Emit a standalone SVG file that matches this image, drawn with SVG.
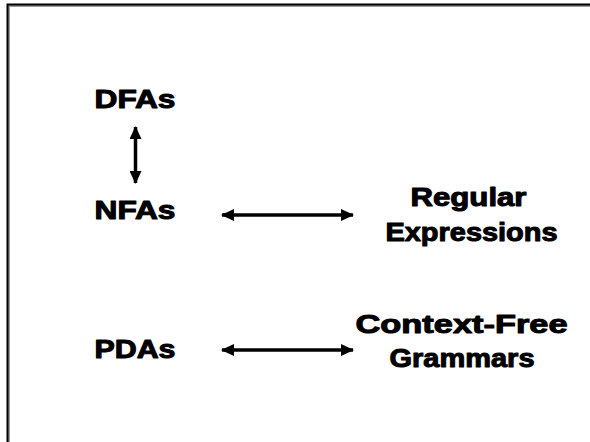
<svg xmlns="http://www.w3.org/2000/svg" width="590" height="442" viewBox="0 0 590 442">
<style>
.t{font-family:"Liberation Sans",Arial,sans-serif;font-weight:bold;font-size:25px;fill:#000;stroke:#000;stroke-width:1px;stroke-linejoin:round}
.c{stroke:#000;stroke-width:3.5;fill:none}
</style>
<defs>
<marker id="ah" viewBox="0 0 13 12" refX="12" refY="6" markerWidth="13" markerHeight="12" markerUnits="userSpaceOnUse" orient="auto-start-reverse">
<path d="M0,0 L13,6 L0,12 Z" fill="#000"/>
</marker>
</defs>
<rect width="590" height="442" fill="#fff"/>
<g id="frame">
<path d="M8.5,600 V5.5 H600" fill="none" stroke="#999" stroke-width="3"/>
<path d="M7.5,600 V4.5 H600" fill="none" stroke="#000" stroke-width="2"/>
</g>
<g id="dfas"><text class="t" x="94.5" y="107.5" textLength="81" lengthAdjust="spacingAndGlyphs">DFAs</text></g>
<g id="nfas"><text class="t" x="94.5" y="218.5" textLength="81" lengthAdjust="spacingAndGlyphs">NFAs</text></g>
<g id="pdas"><text class="t" x="94.5" y="357.5" textLength="81" lengthAdjust="spacingAndGlyphs">PDAs</text></g>
<g id="regex">
<text class="t" x="410.5" y="205.5" textLength="116" lengthAdjust="spacingAndGlyphs">Regular</text>
<text class="t" x="385.5" y="240.5" textLength="172" lengthAdjust="spacingAndGlyphs">Expressions</text>
</g>
<g id="cfg">
<text class="t" x="355.5" y="332.5" textLength="212" lengthAdjust="spacingAndGlyphs">Context-Free</text>
<text class="t" x="389.5" y="366.5" textLength="145" lengthAdjust="spacingAndGlyphs">Grammars</text>
</g>
<g id="connectors">
<line class="c" x1="135.5" y1="127" x2="135.5" y2="183" marker-start="url(#ah)" marker-end="url(#ah)"/>
<line class="c" x1="222" y1="215" x2="353" y2="215" marker-start="url(#ah)" marker-end="url(#ah)"/>
<line class="c" x1="222" y1="350" x2="353" y2="350" marker-start="url(#ah)" marker-end="url(#ah)"/>
</g>
</svg>
